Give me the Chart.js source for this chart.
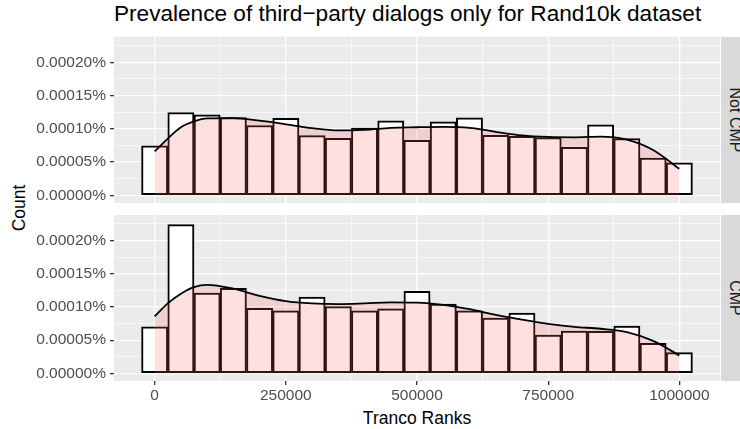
<!DOCTYPE html>
<html>
<head>
<meta charset="utf-8">
<script src="https://cdn.jsdelivr.net/npm/chart.js@4.4.1/dist/chart.umd.min.js"></script>
<style>
  body { margin: 0; width: 740px; height: 429px; background: #fff; position: relative; overflow: hidden;
         font-family: "Liberation Sans", Arial, sans-serif; }
  canvas { position: absolute; left: 0; }
  #title { position: absolute; left: 114px; top: 3px; font-size: 22.6px; line-height: 22px; color: #000; white-space: nowrap; }
  .axtitle { position: absolute; font-size: 17.5px; line-height: 18px; color: #000; white-space: nowrap;
             transform: translate(-50%, -50%); }
  #ylab { left: 19px; top: 208px; transform: translate(-50%, -50%) rotate(-90deg); }
  #xlab { left: 417px; top: 418px; }
  .strip { position: absolute; left: 721px; width: 22px; background: #D9D9D9; }
  .strip span { position: absolute; left: 14px; top: 50%; font-size: 16px; line-height: 16px; color: #1A1A1A;
                white-space: nowrap; transform: translate(-50%, -50%) rotate(90deg); }
</style>
</head>
<body>
<div id="title">Prevalence of third−party dialogs only for Rand10k dataset</div>
<div id="ylab" class="axtitle">Count</div>
<div id="xlab" class="axtitle">Tranco Ranks</div>
<div class="strip" style="top:37px;height:166px"><span>Not CMP</span></div>
<div class="strip" style="top:215px;height:166px"><span>CMP</span></div>
<canvas id="topPanel" width="720" height="180" style="top:30px"></canvas>
<canvas id="bottomPanel" width="720" height="224" style="top:205px"></canvas>
<script>
// histogram bins (centre of each 50000-wide bin), y values are in percent
const binCenters = [0, 50000, 100000, 150000, 200000, 250000, 300000, 350000, 400000, 450000, 500000,
  550000, 600000, 650000, 700000, 750000, 800000, 850000, 900000, 950000, 1000000];
const notCmpBars = [0.0000746, 0.0001244, 0.000121, 0.000117, 0.000105, 0.0001156, 0.0000898, 0.0000859,
  0.000101, 0.0001122, 0.0000829, 0.0001107, 0.0001166, 0.0000902, 0.0000888, 0.0000868, 0.0000722,
  0.0001059, 0.0000854, 0.0000561, 0.0000488];
const cmpBars = [0.0000701, 0.000224, 0.000121, 0.000128, 0.000098, 0.0000941, 0.0001147, 0.0001005,
  0.0000941, 0.0000971, 0.0001235, 0.0001044, 0.0000941, 0.0000833, 0.0000907, 0.0000578, 0.0000637,
  0.0000632, 0.0000711, 0.0000451, 0.0000314];

// density curve
const densX = [0, 25000, 50000, 75000, 100000, 150000, 200000, 250000, 300000, 350000, 400000, 450000,
  500000, 550000, 600000, 650000, 700000, 750000, 800000, 850000, 900000, 950000, 1000000];
const notCmpDensity = [0.000066, 0.0000854, 0.0001024, 0.0001112, 0.0001156, 0.000116, 0.0001122,
  0.0001068, 0.000101, 0.0000976, 0.0000985, 0.0001015, 0.0001024, 0.0001029, 0.0001015, 0.0000956,
  0.0000902, 0.0000878, 0.0000873, 0.0000883, 0.0000839, 0.0000683, 0.00004];
const cmpDensity = [0.0000858, 0.0001054, 0.00012, 0.00013, 0.0001333, 0.0001275, 0.0001167, 0.0001088,
  0.0001054, 0.0001044, 0.0001054, 0.0001069, 0.0001064, 0.000103, 0.0000966, 0.0000882, 0.0000809,
  0.0000745, 0.0000701, 0.0000672, 0.0000623, 0.000049, 0.000027];

const xTicks = [0, 250000, 500000, 750000, 1000000];
const xMinor = [125000, 375000, 625000, 875000];
const yTicks = [0, 0.00005, 0.0001, 0.00015, 0.0002];
const yMinor = [0.000025, 0.000075, 0.000125, 0.000175, 0.000225];

const xMin = -77500, xMax = 1077500;
const yMin = -0.0000114, yMax = 0.0002384;

const panelBg = {
  id: 'panelBg',
  beforeDraw(chart) {
    const { ctx, chartArea: a } = chart;
    ctx.save();
    ctx.fillStyle = '#EBEBEB';
    ctx.fillRect(a.left, a.top, a.right - a.left, a.bottom - a.top);
    ctx.restore();
  }
};

const tickFont = { family: '"Liberation Sans", Arial, sans-serif', size: 15.5 };

// is this grid line a major one?
const isMajor = (c, list) => !!(c.tick && list.includes(c.tick.value));

function makePanel(id, bars, dens, showX, padTop, xHeight) {
  return new Chart(document.getElementById(id), {
    type: 'bar',
    data: {
      datasets: [{
        type: 'line',
        order: 0,
        data: densX.map((x, i) => ({ x: x, y: dens[i] })),
        borderColor: '#000000',
        borderWidth: 1.8,
        backgroundColor: 'rgba(255, 102, 102, 0.2)',
        fill: 'origin',
        pointRadius: 0,
        cubicInterpolationMode: 'monotone'
      }, {
        type: 'bar',
        order: 1,
        data: binCenters.map((x, i) => ({ x: x, y: bars[i] })),
        backgroundColor: '#FFFFFF',
        borderColor: '#000000',
        borderWidth: 2,
        borderSkipped: false,
        barPercentage: 1,
        categoryPercentage: 1
      }]
    },
    options: {
      responsive: false,
      animation: false,
      devicePixelRatio: 1,
      layout: { padding: { top: padTop, left: 0, right: 0, bottom: 0 } },
      plugins: { legend: { display: false }, tooltip: { enabled: false } },
      scales: {
        x: {
          type: 'linear',
          bounds: 'data',
          offset: false,
          min: xMin,
          max: xMax,
          afterBuildTicks: s => { s.ticks = xTicks.concat(xMinor).map(v => ({ value: v })); },
          afterFit: s => { s.height = xHeight; s.paddingLeft = 0; s.paddingRight = 0; },
          border: { display: false },
          grid: {
            offset: false,
            color: '#FFFFFF',
            lineWidth: c => isMajor(c, xTicks) ? 1.3 : 0.6,
            drawTicks: showX,
            tickLength: 4,
            tickWidth: 1.3,
            tickColor: c => isMajor(c, xTicks) ? '#333333' : 'rgba(0,0,0,0)'
          },
          ticks: {
            display: showX,
            autoSkip: false,
            maxRotation: 0,
            padding: 1,
            color: '#4D4D4D',
            font: tickFont,
            callback: v => xTicks.includes(v) ? String(v) : ''
          }
        },
        y: {
          bounds: 'data',
          min: yMin,
          max: yMax,
          afterBuildTicks: s => { s.ticks = yTicks.concat(yMinor).map(v => ({ value: v })); },
          afterFit: s => { s.width = 114; s.paddingTop = 0; s.paddingBottom = 0; },
          border: { display: false },
          grid: {
            color: '#FFFFFF',
            lineWidth: c => isMajor(c, yTicks) ? 1.3 : 0.6,
            tickLength: 4,
            tickWidth: 1.3,
            tickColor: c => isMajor(c, yTicks) ? '#333333' : 'rgba(0,0,0,0)'
          },
          ticks: {
            autoSkip: false,
            padding: 4,
            color: '#4D4D4D',
            font: tickFont,
            callback: v => yTicks.includes(v) ? v.toFixed(5) + '%' : ''
          }
        }
      }
    },
    plugins: [panelBg]
  });
}

makePanel('topPanel', notCmpBars, notCmpDensity, false, 6.7, 7);
makePanel('bottomPanel', cmpBars, cmpDensity, true, 10, 48);
</script>
</body>
</html>
